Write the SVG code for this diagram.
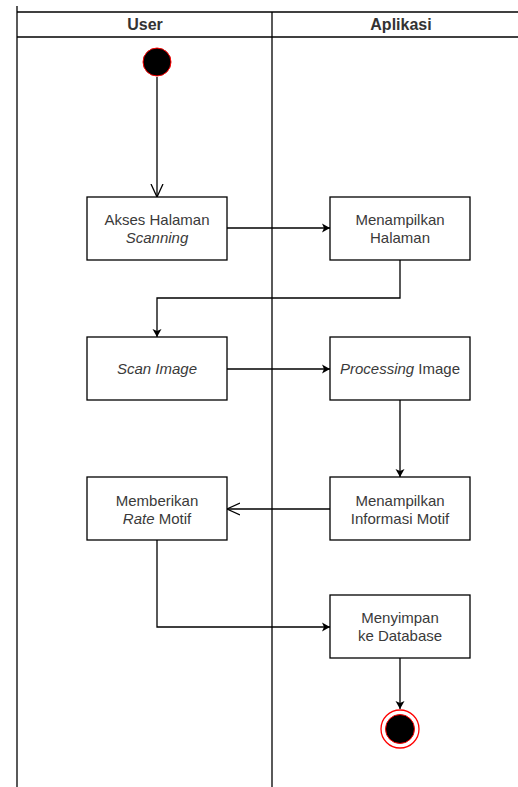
<svg xmlns="http://www.w3.org/2000/svg" width="518" height="787" viewBox="0 0 518 787">
<defs>
<style>
.box{fill:#fff;stroke:#000;stroke-width:1.3}
.lane{stroke:#000;stroke-width:1.3;fill:none}
.t{font-family:"Liberation Sans",Arial,sans-serif;font-size:15px;fill:#3a3a3a;text-anchor:middle}
.h{font-family:"Liberation Sans",Arial,sans-serif;font-size:16px;font-weight:bold;fill:#333;text-anchor:middle}
.c{stroke:#000;stroke-width:1.3;fill:none}
</style>
<marker id="fa" markerWidth="10" markerHeight="10" refX="8" refY="5" orient="auto" markerUnits="userSpaceOnUse">
<path d="M0,0.5 L8,5 L0,9.5 L2,5 Z" fill="#000"/>
</marker>
<marker id="oa" markerWidth="14" markerHeight="14" refX="13" refY="7" orient="auto" markerUnits="userSpaceOnUse">
<path d="M0,1 L13,7 L0,13" fill="none" stroke="#000" stroke-width="1.3"/>
</marker>
</defs>
<rect width="518" height="787" fill="#fff"/>
<g id="swimlanes">
<line class="lane" x1="17" y1="6" x2="17" y2="787"/>
<line class="lane" x1="272" y1="12" x2="272" y2="787"/>
<line class="lane" x1="17" y1="12" x2="518" y2="12"/>
<line class="lane" x1="17" y1="37" x2="518" y2="37"/>
<text class="h" x="145" y="30">User</text>
<text class="h" x="401" y="30">Aplikasi</text>
</g>
<g id="connectors">
<line class="c" x1="157" y1="77" x2="157" y2="197" marker-end="url(#oa)"/>
<line class="c" x1="227" y1="228" x2="330" y2="228" marker-end="url(#fa)"/>
<polyline class="c" points="400,260 400,298 157,298 157,337" marker-end="url(#fa)"/>
<line class="c" x1="227" y1="369" x2="330" y2="369" marker-end="url(#fa)"/>
<line class="c" x1="400" y1="400" x2="400" y2="477" marker-end="url(#fa)"/>
<line class="c" x1="330" y1="509" x2="227" y2="509" marker-end="url(#oa)"/>
<polyline class="c" points="157,540 157,627 330,627" marker-end="url(#fa)"/>
<line class="c" x1="400" y1="658" x2="400" y2="709" marker-end="url(#fa)"/>
</g>
<g id="start">
<circle cx="157" cy="62" r="14" fill="#000" stroke="#f00" stroke-width="1"/>
</g>
<g id="akses">
<rect class="box" x="87" y="197" width="140" height="63"/>
<text class="t" x="157" y="225">Akses Halaman</text>
<text class="t" x="157" y="243" font-style="italic">Scanning</text>
</g>
<g id="menampilkan-halaman">
<rect class="box" x="330" y="197" width="140" height="63"/>
<text class="t" x="400" y="225">Menampilkan</text>
<text class="t" x="400" y="243">Halaman</text>
</g>
<g id="scan">
<rect class="box" x="87" y="337" width="140" height="63"/>
<text class="t" x="157" y="374" font-style="italic">Scan Image</text>
</g>
<g id="processing">
<rect class="box" x="330" y="337" width="140" height="63"/>
<text class="t" x="400" y="374"><tspan font-style="italic">Processing</tspan> Image</text>
</g>
<g id="informasi">
<rect class="box" x="330" y="477" width="140" height="63"/>
<text class="t" x="400" y="506">Menampilkan</text>
<text class="t" x="400" y="524">Informasi Motif</text>
</g>
<g id="rate">
<rect class="box" x="87" y="477" width="140" height="63"/>
<text class="t" x="157" y="506">Memberikan</text>
<text class="t" x="157" y="524"><tspan font-style="italic">Rate</tspan> Motif</text>
</g>
<g id="simpan">
<rect class="box" x="330" y="595" width="140" height="63"/>
<text class="t" x="400" y="623">Menyimpan</text>
<text class="t" x="400" y="641">ke Database</text>
</g>
<g id="end">
<circle cx="400" cy="729" r="19" fill="#fff" stroke="#f00" stroke-width="1.3"/>
<circle cx="400" cy="729" r="14.5" fill="#000" stroke="#f00" stroke-width="1"/>
</g>
</svg>
